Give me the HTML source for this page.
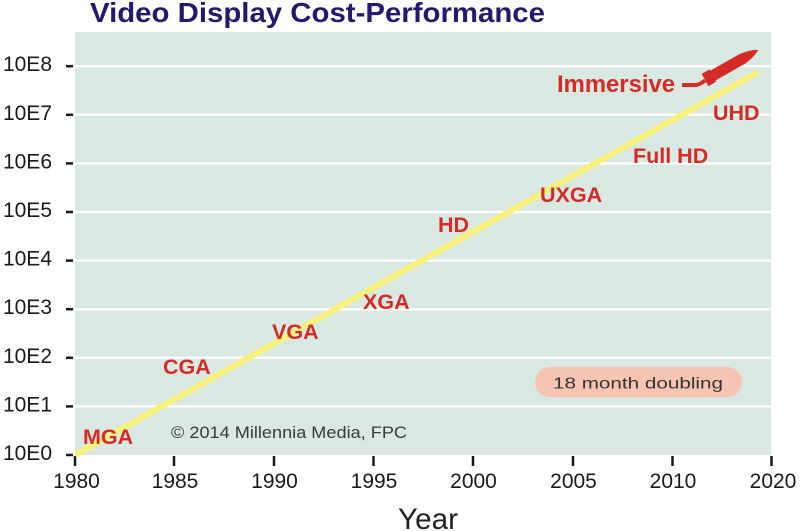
<!DOCTYPE html>
<html>
<head>
<meta charset="utf-8">
<style>
  html,body{margin:0;padding:0;background:#fff;}
  svg{display:block;}
  text{font-family:"Liberation Sans", sans-serif;}
</style>
</head>
<body>
<svg width="800" height="531" viewBox="0 0 800 531" xmlns="http://www.w3.org/2000/svg">
  <!-- Title -->
  <text x="90" y="22" font-size="28" font-weight="bold" fill="#231a6e" textLength="455" lengthAdjust="spacingAndGlyphs">Video Display Cost-Performance</text>

  <!-- Plot background -->
  <rect x="75" y="32" width="696" height="423" fill="#d9e8e0"/>

  <!-- Gridlines -->
  <g stroke="#ffffff" stroke-width="2.5">
    <line x1="75" y1="66.2" x2="771" y2="66.2"/>
    <line x1="75" y1="114.8" x2="771" y2="114.8"/>
    <line x1="75" y1="163.4" x2="771" y2="163.4"/>
    <line x1="75" y1="212" x2="771" y2="212"/>
    <line x1="75" y1="260.6" x2="771" y2="260.6"/>
    <line x1="75" y1="309.2" x2="771" y2="309.2"/>
    <line x1="75" y1="357.8" x2="771" y2="357.8"/>
    <line x1="75" y1="406.4" x2="771" y2="406.4"/>
  </g>

  <!-- Y ticks -->
  <g stroke="#1a1a1a" stroke-width="2.5">
    <line x1="66" y1="66.2" x2="73" y2="66.2"/>
    <line x1="66" y1="114.8" x2="73" y2="114.8"/>
    <line x1="66" y1="163.4" x2="73" y2="163.4"/>
    <line x1="66" y1="212" x2="73" y2="212"/>
    <line x1="66" y1="260.6" x2="73" y2="260.6"/>
    <line x1="66" y1="309.2" x2="73" y2="309.2"/>
    <line x1="66" y1="357.8" x2="73" y2="357.8"/>
    <line x1="66" y1="406.4" x2="73" y2="406.4"/>
    <line x1="66" y1="455" x2="73" y2="455"/>
  </g>

  <!-- Y labels -->
  <g font-size="21" fill="#1a1a1a" text-anchor="end">
    <text x="52" y="71">10E8</text>
    <text x="52" y="120">10E7</text>
    <text x="52" y="168.5">10E6</text>
    <text x="52" y="217">10E5</text>
    <text x="52" y="265.5">10E4</text>
    <text x="52" y="314">10E3</text>
    <text x="52" y="363">10E2</text>
    <text x="52" y="411.5">10E1</text>
    <text x="52" y="460">10E0</text>
  </g>

  <!-- X ticks -->
  <g stroke="#1a1a1a" stroke-width="2.5">
    <line x1="75" y1="456" x2="75" y2="466"/>
    <line x1="174" y1="456" x2="174" y2="466"/>
    <line x1="274" y1="456" x2="274" y2="466"/>
    <line x1="373.5" y1="456" x2="373.5" y2="466"/>
    <line x1="473" y1="456" x2="473" y2="466"/>
    <line x1="573" y1="456" x2="573" y2="466"/>
    <line x1="672.5" y1="456" x2="672.5" y2="466"/>
    <line x1="771.5" y1="456" x2="771.5" y2="466"/>
  </g>

  <!-- X labels -->
  <g font-size="21" fill="#1a1a1a" text-anchor="middle">
    <text x="76.5" y="488">1980</text>
    <text x="175" y="488">1985</text>
    <text x="274.5" y="488">1990</text>
    <text x="374" y="488">1995</text>
    <text x="473.5" y="488">2000</text>
    <text x="573.5" y="488">2005</text>
    <text x="673" y="488">2010</text>
    <text x="773" y="488">2020</text>
  </g>

  <!-- Year -->
  <text x="398" y="529" font-size="29.5" fill="#222" textLength="60" lengthAdjust="spacingAndGlyphs">Year</text>

  <!-- Trend line -->
  <line x1="75" y1="455" x2="758" y2="72" stroke="#f8f17c" stroke-width="6" stroke-linecap="butt"/>

  <!-- Data labels -->
  <g font-size="21.5" font-weight="bold" fill="#d42b27">
    <text x="83" y="444">MGA</text>
    <text x="163" y="374">CGA</text>
    <text x="272" y="339">VGA</text>
    <text x="363" y="309">XGA</text>
    <text x="438" y="232">HD</text>
    <text x="540" y="202">UXGA</text>
    <text x="633" y="163">Full HD</text>
    <text x="713" y="120">UHD</text>
    <text x="557" y="92" font-size="24" textLength="118" lengthAdjust="spacingAndGlyphs">Immersive</text>
  </g>

  <!-- Rocket -->
  <path d="M682,85 L696,85 Q700,84.5 705,80.5" fill="none" stroke="#d42b27" stroke-width="4" stroke-linecap="butt"/>
  <g transform="translate(705,80) rotate(-29.5)" fill="#d42b27">
    <rect x="0" y="-7" width="9" height="14"/>
    <rect x="8" y="-5.5" width="36" height="11"/>
    <path d="M43,-5.5 Q55,-4 61,0 Q55,4 43,5.5 Z"/>
  </g>

  <!-- Copyright -->
  <text x="171" y="438" font-size="16.5" fill="#3a3a3a" textLength="236" lengthAdjust="spacingAndGlyphs">© 2014 Millennia Media, FPC</text>

  <!-- 18 month doubling pill -->
  <rect x="535" y="367" width="207" height="30" rx="15" ry="15" fill="#f5c4b2"/>
  <text x="553" y="388.5" font-size="16" fill="#333" textLength="170" lengthAdjust="spacingAndGlyphs">18 month doubling</text>
</svg>
</body>
</html>
